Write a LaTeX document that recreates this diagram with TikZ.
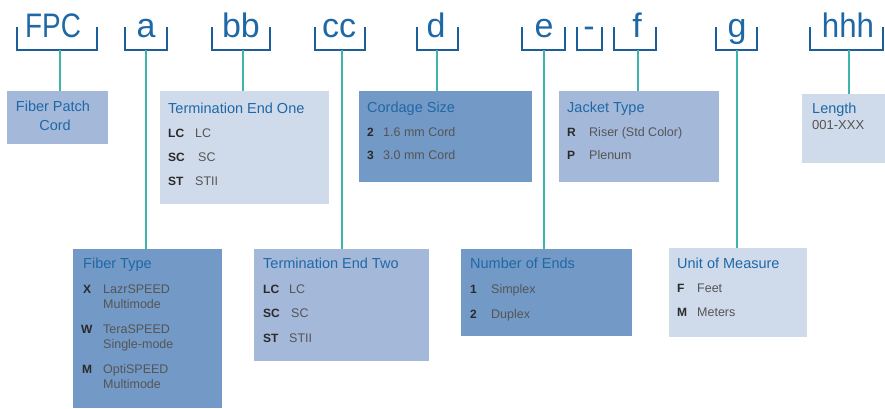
\documentclass[tikz,border=0pt]{standalone}
\usepackage{fontspec}
\setmainfont{Liberation Sans}
\definecolor{brk}{HTML}{1B5E9A}
\definecolor{stem}{HTML}{3DB5AD}
\definecolor{ttl}{HTML}{1F68A6}
\definecolor{bxD}{HTML}{7399C6}
\definecolor{bxM}{HTML}{A4B8DA}
\definecolor{bxL}{HTML}{CFDAEB}
\definecolor{keyc}{HTML}{2A2A2A}
\definecolor{valc}{HTML}{555555}
\tikzset{
 code/.style={anchor=base, text=ttl, font=\fontsize{34}{34}\selectfont, inner sep=0},
 brack/.style={draw=brk, line width=2pt},
 stemline/.style={draw=stem, line width=1.5pt},
 box/.style={anchor=north west, inner sep=0, outer sep=0, draw=none},
 ttlt/.style={anchor=base west, inner sep=0, text=ttl, font=\fontsize{14.5}{16}\selectfont},
 keyt/.style={anchor=base west, inner sep=0, text=keyc, font=\fontsize{12}{14}\selectfont\bfseries},
 valt/.style={anchor=base west, inner sep=0, text=valc, font=\fontsize{12.5}{14}\selectfont},
}
\begin{document}
\begin{tikzpicture}[x=1pt,y=-1pt]
\useasboundingbox (0,0) rectangle (885,408);
% code letters
\node[code] (lFPC) at (53,37) {\scalebox{0.82}[1]{FPC}};
\node[code] (la) at (146,37) {a};
\node[code] (lbb) at (241,37) {bb};
\node[code] (lcc) at (339,37) {cc};
\node[code] (ld) at (436,37) {d};
\node[code] (le) at (544,37) {e};
\node[code] (ldash) at (589,37) {-};
\node[code] (lf) at (637,37) {f};
\node[code] (lg) at (737,37) {g};
\node[code] (lhhh) at (848,37) {\scalebox{0.92}[1]{hhh}};
% brackets
\foreach \l/\r in {17/97,125/167,212/270,315/365,417/458,522/565,577/602,614/656,716/757,810/883}
  \draw[brack] (\l,27) -- (\l,50) -- (\r,50) -- (\r,27);
% stem tops
\coordinate (sFPC) at (60,50);
\coordinate (sa) at (146,50);
\coordinate (sbb) at (243,50);
\coordinate (scc) at (342,50);
\coordinate (sd) at (437,50);
\coordinate (se) at (544,50);
\coordinate (sf) at (638,50);
\coordinate (sg) at (737,50);
\coordinate (sh) at (849,50);
% boxes
\node[box, fill=bxM, minimum width=101pt, minimum height=53pt] (bFPC) at (7,91) {};
\node[box, fill=bxL, minimum width=169pt, minimum height=113pt] (bTE1) at (160,91) {};
\node[box, fill=bxD, minimum width=173pt, minimum height=91pt] (bCS) at (359,91) {};
\node[box, fill=bxM, minimum width=160pt, minimum height=91pt] (bJT) at (559,91) {};
\node[box, fill=bxL, minimum width=83pt, minimum height=69pt] (bLen) at (802,94) {};
\node[box, fill=bxD, minimum width=149pt, minimum height=159pt] (bFT) at (73,249) {};
\node[box, fill=bxM, minimum width=175pt, minimum height=112pt] (bTE2) at (254,249) {};
\node[box, fill=bxD, minimum width=171pt, minimum height=87pt] (bNE) at (461,249) {};
\node[box, fill=bxL, minimum width=138pt, minimum height=89pt] (bUM) at (669,248) {};
% stems
\draw[stemline] (sFPC) -- (sFPC |- bFPC.north);
\draw[stemline] (sa) -- (sa |- bFT.north);
\draw[stemline] (sbb) -- (sbb |- bTE1.north);
\draw[stemline] (scc) -- (scc |- bTE2.north);
\draw[stemline] (sd) -- (sd |- bCS.north);
\draw[stemline] (se) -- (se |- bNE.north);
\draw[stemline] (sf) -- (sf |- bJT.north);
\draw[stemline] (sg) -- (sg |- bUM.north);
\draw[stemline] (sh) -- (sh |- bLen.north);
% Fiber Patch Cord
\node[ttlt, anchor=base] (tFPC1) at (53,111) {Fiber Patch};
\node[ttlt, anchor=base] (tFPC2) at (55,130) {Cord};
% Termination End One
\node[ttlt] (tTE1) at (168,113) {Termination End One};
\node[keyt] (k11) at (168,137) {LC}; \node[valt] (v11) at (195,137) {LC};
\node[keyt] (k12) at (168,161) {SC}; \node[valt] (v12) at (198,161) {SC};
\node[keyt] (k13) at (168,185) {ST}; \node[valt] (v13) at (195,185) {STII};
% Cordage Size
\node[ttlt] (tCS) at (367,112) {Cordage Size};
\node[keyt] (k21) at (367,136) {2}; \node[valt] (v21) at (383,136) {1.6 mm Cord};
\node[keyt] (k22) at (367,159) {3}; \node[valt] (v22) at (383,159) {3.0 mm Cord};
% Jacket Type
\node[ttlt] (tJT) at (567,112) {Jacket Type};
\node[keyt] (k31) at (567,136) {R}; \node[valt] (v31) at (589,136) {Riser (Std Color)};
\node[keyt] (k32) at (567,159) {P}; \node[valt] (v32) at (589,159) {Plenum};
% Length
\node[ttlt] (tLen) at (812,113) {Length};
\node[valt, font=\fontsize{13}{15}\selectfont] (vLen) at (812,129) {001-XXX};
% Fiber Type
\node[ttlt] (tFT) at (83,268) {Fiber Type};
\node[keyt] (k41) at (83,293) {X}; \node[valt] (v41) at (103,293) {LazrSPEED};
\node[valt] (v41b) at (103,308) {Multimode};
\node[keyt] (k42) at (81,333) {W}; \node[valt] (v42) at (103,333) {TeraSPEED};
\node[valt] (v42b) at (103,348) {Single-mode};
\node[keyt] (k43) at (82,373) {M}; \node[valt] (v43) at (103,373) {OptiSPEED};
\node[valt] (v43b) at (103,388) {Multimode};
% Termination End Two
\node[ttlt] (tTE2) at (263,268) {Termination End Two};
\node[keyt] (k51) at (263,293) {LC}; \node[valt] (v51) at (289,293) {LC};
\node[keyt] (k52) at (263,317) {SC}; \node[valt] (v52) at (291,317) {SC};
\node[keyt] (k53) at (263,342) {ST}; \node[valt] (v53) at (289,342) {STII};
% Number of Ends
\node[ttlt] (tNE) at (470,268) {Number of Ends};
\node[keyt] (k61) at (470,293) {1}; \node[valt] (v61) at (491,293) {Simplex};
\node[keyt] (k62) at (470,318) {2}; \node[valt] (v62) at (491,318) {Duplex};
% Unit of Measure
\node[ttlt] (tUM) at (677,268) {Unit of Measure};
\node[keyt] (k71) at (677,292) {F}; \node[valt] (v71) at (697,292) {Feet};
\node[keyt] (k72) at (677,316) {M}; \node[valt] (v72) at (697,316) {Meters};
\end{tikzpicture}
\end{document}
